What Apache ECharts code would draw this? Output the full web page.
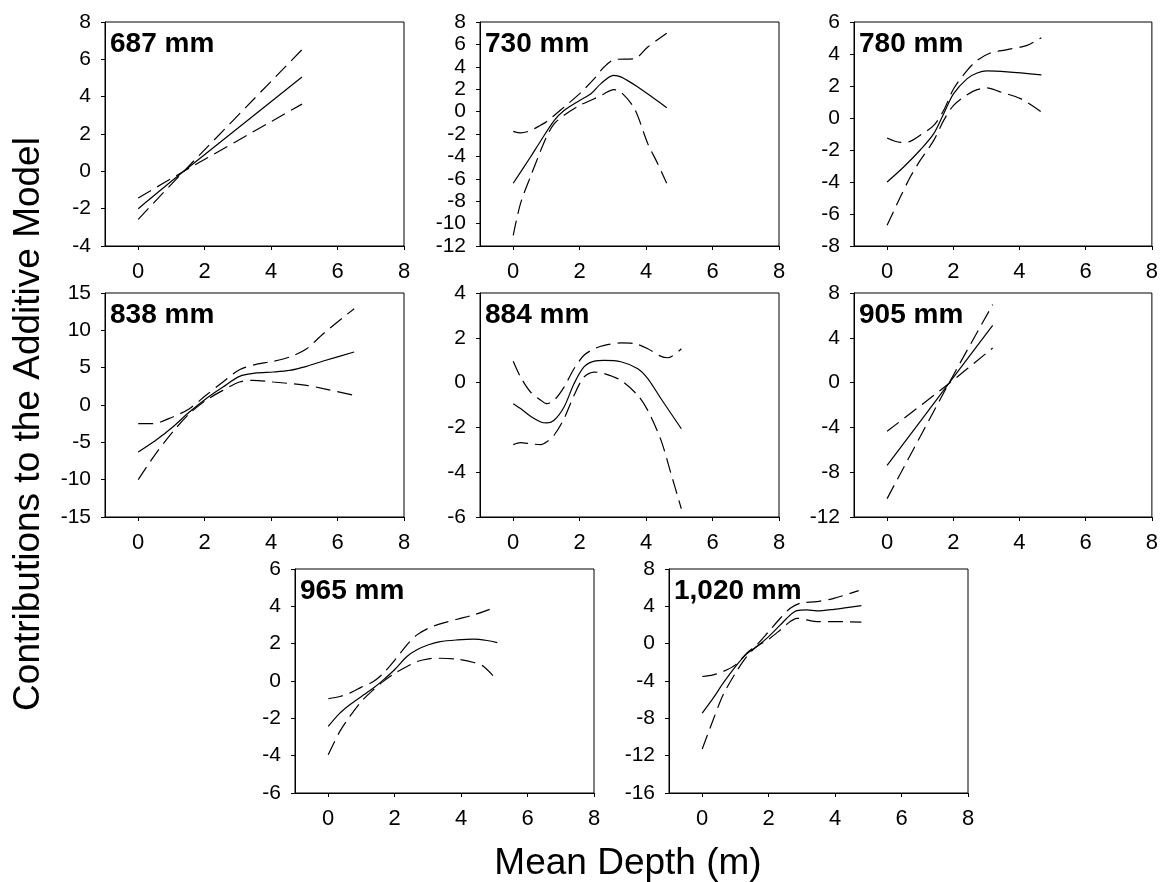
<!DOCTYPE html>
<html>
<head>
<meta charset="utf-8">
<script src="https://cdn.jsdelivr.net/npm/echarts@6/dist/echarts.min.js"></script>
<style>
  html, body { margin: 0; padding: 0; background: #fff; }
  #chart { width: 1161px; height: 882px; }
</style>
</head>
<body>
<div id="chart"></div>
<script>
/* -------------------------------------------------------------------------- */
/*                     Additive model contributions by depth                  */
/* -------------------------------------------------------------------------- */

const panelLabels = ['687 mm', '730 mm', '780 mm', '838 mm', '884 mm', '905 mm', '965 mm', '1,020 mm'];
const xTicks = [0, 2, 4, 6, 8];
const yMins = [-4, -12, -8, -15, -6, -12, -6, -16];
const yMaxs = [8, 8, 6, 15, 4, 8, 6, 8];
const ySteps = [2, 2, 2, 5, 2, 4, 2, 4];

// [mean depth, contribution]
const fit687 = [[0, -2.0], [1.37, 0], [4.93, 5.05]];
const upper687 = [[0, -2.57], [1.37, 0], [4.93, 6.52]];
const lower687 = [[0, -1.43], [1.37, 0], [4.93, 3.6]];

const fit730 = [[0, -6.4], [0.52, -4.05], [0.83, -2.6], [1.23, -0.8], [1.53, 0.1], [2.0, 1.0], [2.34, 1.6], [2.64, 2.5], [3.02, 3.24], [3.24, 3.1], [3.75, 2.2], [4.25, 1.15], [4.62, 0.35]];
const upper730 = [[0, -1.76], [0.22, -1.9], [0.52, -1.7], [0.83, -1.2], [1.0, -0.9], [1.53, 0.4], [2.0, 1.6], [2.44, 2.94], [2.74, 4.0], [3.04, 4.64], [3.65, 4.73], [4.05, 5.77], [4.62, 7.0]];
const lower730 = [[0, -11.05], [0.22, -8.2], [0.52, -5.8], [0.83, -3.46], [1.0, -2.27], [1.23, -1.1], [1.53, -0.33], [2.0, 0.56], [2.44, 1.15], [2.74, 1.6], [3.02, 1.96], [3.24, 1.75], [3.65, 0.26], [4.05, -2.86], [4.35, -4.65], [4.62, -6.4]];

const fit780 = [[0, -4.0], [0.5, -3.06], [1.0, -2.0], [1.41, -0.98], [1.71, 0.27], [2.01, 1.52], [2.42, 2.46], [2.72, 2.81], [3.02, 2.94], [3.63, 2.88], [4.66, 2.7]];
const upper780 = [[0, -1.25], [0.4, -1.52], [0.7, -1.46], [1.0, -1.08], [1.41, -0.46], [1.71, 0.48], [2.01, 1.83], [2.42, 2.98], [2.72, 3.6], [3.12, 4.06], [3.63, 4.27], [4.23, 4.54], [4.66, 5.02]];
const lower780 = [[0, -6.7], [0.4, -4.94], [0.7, -3.69], [1.0, -2.65], [1.41, -1.4], [1.71, -0.15], [2.01, 0.79], [2.42, 1.46], [2.72, 1.77], [3.02, 1.88], [3.42, 1.63], [4.03, 1.21], [4.66, 0.38]];

const fit838 = [[0, -6.3], [0.53, -4.73], [1.04, -2.95], [1.54, -0.94], [2.04, 0.85], [2.55, 2.41], [3.05, 3.84], [3.55, 4.29], [4.06, 4.42], [4.56, 4.64], [5.07, 5.18], [5.57, 5.89], [6.5, 7.1]];
const upper838 = [[0, -2.5], [0.43, -2.5], [1.04, -1.6], [1.54, -0.49], [2.04, 1.3], [2.55, 3.08], [3.05, 4.73], [3.55, 5.45], [4.06, 5.85], [4.56, 6.43], [5.07, 7.54], [5.57, 9.55], [6.5, 12.9]];
const lower838 = [[0, -10.0], [0.53, -6.5], [1.04, -3.6], [1.54, -1.16], [2.04, 0.63], [2.55, 1.96], [3.05, 3.08], [3.45, 3.3], [4.06, 3.08], [5.07, 2.63], [5.57, 2.19], [6.5, 1.3]];

const fit884 = [[0, -0.94], [0.22, -1.16], [0.52, -1.5], [0.83, -1.76], [1.0, -1.8], [1.23, -1.68], [1.53, -1.09], [1.83, -0.05], [2.13, 0.7], [2.44, 0.96], [2.74, 0.99], [3.24, 0.93], [3.75, 0.62], [4.05, 0.18], [4.45, -0.72], [5.06, -2.06]];
const upper884 = [[0, 0.95], [0.22, 0.25], [0.52, -0.42], [0.83, -0.79], [1.0, -0.94], [1.23, -0.79], [1.53, -0.2], [1.83, 0.62], [2.13, 1.22], [2.44, 1.51], [2.74, 1.66], [3.24, 1.77], [3.65, 1.74], [4.05, 1.51], [4.45, 1.17], [4.65, 1.11], [5.06, 1.51]];
const lower884 = [[0, -2.77], [0.22, -2.68], [0.52, -2.73], [0.83, -2.77], [1.0, -2.65], [1.23, -2.35], [1.53, -1.61], [1.83, -0.57], [2.13, 0.25], [2.44, 0.47], [2.74, 0.4], [3.24, 0.1], [3.75, -0.57], [4.05, -1.24], [4.45, -2.58], [4.75, -4.07], [5.06, -5.63]];

const fit905 = [[0, -7.39], [1.86, -0.1], [3.19, 5.11]];
const upper905 = [[0, -10.36], [1.86, -0.1], [3.19, 6.96]];
const lower905 = [[0, -4.35], [1.86, -0.1], [3.19, 3.09]];

const fit965 = [[0, -2.43], [0.35, -1.72], [0.65, -1.27], [1.0, -0.83], [1.36, -0.38], [1.66, 0.06], [2.01, 0.63], [2.37, 1.31], [2.67, 1.67], [3.02, 1.94], [3.37, 2.11], [3.88, 2.2], [4.38, 2.24], [4.78, 2.17], [5.09, 2.06]];
const upper965 = [[0, -0.95], [0.35, -0.83], [0.65, -0.65], [1.0, -0.33], [1.36, -0.03], [1.66, 0.42], [2.01, 1.13], [2.37, 1.94], [2.67, 2.47], [3.02, 2.83], [3.37, 3.06], [3.88, 3.31], [4.38, 3.54], [4.86, 3.84]];
const lower965 = [[0, -3.95], [0.35, -2.7], [0.65, -1.9], [1.0, -1.09], [1.36, -0.47], [1.66, -0.02], [2.01, 0.42], [2.37, 0.78], [2.67, 1.04], [3.02, 1.19], [3.37, 1.22], [3.88, 1.17], [4.38, 0.99], [4.68, 0.78], [5.09, 0.03]];

const fit1020 = [[0, -7.44], [0.33, -5.84], [0.63, -4.23], [1.0, -2.45], [1.34, -1.09], [1.64, -0.31], [2.0, 0.76], [2.35, 2.01], [2.65, 3.08], [2.85, 3.54], [3.15, 3.61], [3.45, 3.51], [3.96, 3.68], [4.79, 4.08]];
const upper1020 = [[0, -3.52], [0.33, -3.34], [0.63, -2.98], [1.0, -2.27], [1.34, -1.02], [1.64, -0.13], [2.0, 1.3], [2.35, 2.72], [2.65, 3.79], [2.95, 4.33], [3.45, 4.5], [3.96, 4.86], [4.71, 5.68]];
const lower1020 = [[0, -11.29], [0.33, -8.16], [0.63, -5.48], [1.0, -3.16], [1.34, -1.38], [1.64, -0.31], [2.0, 0.47], [2.35, 1.47], [2.65, 2.37], [2.85, 2.72], [3.15, 2.54], [3.45, 2.37], [3.96, 2.37], [4.79, 2.3]];

const fits = [fit687, fit730, fit780, fit838, fit884, fit905, fit965, fit1020];
const uppers = [upper687, upper730, upper780, upper838, upper884, upper905, upper965, upper1020];
const lowers = [lower687, lower730, lower780, lower838, lower884, lower905, lower965, lower1020];

// panel placement (3 / 3 / 2 layout)
const panelLeft = [105, 480, 854, 105, 480, 854, 295, 669];
const panelTop = [22, 22, 22, 293, 293, 293, 569, 569];
const panelW = 299;
const panelH = 224;

const font = "'Liberation Sans', Arial, Helvetica, sans-serif";
const dash = [15, 7];

const chart = echarts.init(document.getElementById('chart'), null, { renderer: 'canvas' });

const grids = [];
const xAxes = [];
const yAxes = [];
const series = [];
const titles = [];

panelLabels.forEach((label, i) => {
  grids.push({
    left: panelLeft[i],
    top: panelTop[i],
    width: panelW,
    height: panelH,
    show: true,
    borderColor: '#000',
    borderWidth: 1,
    backgroundColor: 'transparent'
  });
  xAxes.push({
    type: 'value',
    gridIndex: i,
    min: -1,
    max: 8,
    axisLine: { show: true, onZero: false, lineStyle: { color: '#000', width: 1 } },
    axisTick: { show: true, length: 4, customValues: xTicks, lineStyle: { color: '#000' } },
    axisLabel: { customValues: xTicks, color: '#000', fontSize: 22, fontFamily: font, margin: 15 },
    splitLine: { show: false }
  });
  yAxes.push({
    type: 'value',
    gridIndex: i,
    min: yMins[i],
    max: yMaxs[i],
    interval: ySteps[i],
    axisLine: { show: true, onZero: false, lineStyle: { color: '#000', width: 1 } },
    axisTick: { show: true, length: 4, lineStyle: { color: '#000' } },
    axisLabel: { color: '#000', fontSize: 21, fontFamily: font, margin: 14 },
    splitLine: { show: false }
  });

  const base = {
    type: 'line',
    xAxisIndex: i,
    yAxisIndex: i,
    showSymbol: false,
    smooth: 0.3,
    silent: true
  };
  series.push({ ...base, data: fits[i], lineStyle: { color: '#000', width: 1.2 } });
  series.push({ ...base, data: uppers[i], lineStyle: { color: '#000', width: 1.2, type: dash } });
  series.push({ ...base, data: lowers[i], lineStyle: { color: '#000', width: 1.2, type: dash } });

  titles.push({
    text: label,
    left: panelLeft[i] + 5,
    top: panelTop[i] + 8,
    padding: 0,
    textStyle: { fontSize: 28, fontWeight: 'bold', color: '#000', fontFamily: font }
  });
});

const option = {
  animation: false,
  backgroundColor: '#fff',
  title: titles,
  graphic: [
    {
      type: 'text',
      x: 29,
      y: 424,
      rotation: Math.PI / 2,
      style: {
        text: 'Contributions to the Additive Model',
        fontSize: 37,
        fontFamily: font,
        fill: '#000',
        textAlign: 'center',
        textVerticalAlign: 'middle'
      }
    },
    {
      type: 'text',
      x: 628,
      y: 864,
      style: {
        text: 'Mean Depth (m)',
        fontSize: 37,
        fontFamily: font,
        fill: '#000',
        textAlign: 'center',
        textVerticalAlign: 'middle'
      }
    }
  ],
  grid: grids,
  xAxis: xAxes,
  yAxis: yAxes,
  series: series
};

chart.setOption(option);
</script>
</body>
</html>
